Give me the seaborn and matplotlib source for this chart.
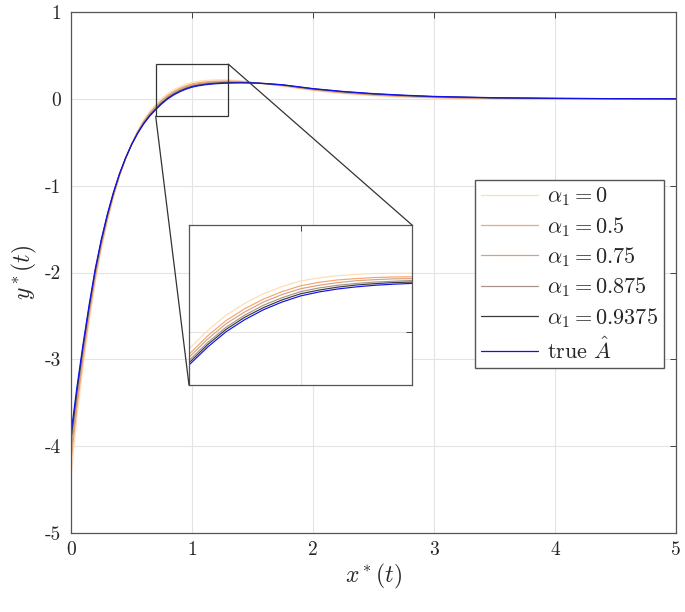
import seaborn as sns
import matplotlib.pyplot as plt
import numpy as np
import pandas as pd
from matplotlib.patches import Rectangle, ConnectionPatch

# values
t = [0, 0.05, 0.1, 0.15, 0.2, 0.25, 0.3, 0.35, 0.4, 0.45, 0.5, 0.55, 0.6, 0.65, 0.7, 0.75,
     0.8, 0.85, 0.9, 0.95, 1.0, 1.05, 1.1, 1.15, 1.2, 1.25, 1.3, 1.4, 1.5, 1.6, 1.75,
     2.0, 2.25, 2.5, 2.75, 3.0, 3.5, 4.0, 4.5, 5.0]

y_a0 = [-4.35, -3.66, -3.08, -2.57, -2.12, -1.74, -1.42, -1.14, -0.90, -0.695, -0.52, -0.37,
        -0.245, -0.145, -0.065, 0.004, 0.062, 0.106, 0.142, 0.169, 0.190, 0.202, 0.210, 0.215,
        0.218, 0.219, 0.219, 0.208, 0.190, 0.171, 0.145, 0.095, 0.060, 0.035, 0.019, 0.008,
        -0.002, -0.002, -0.001, 0.0]
y_a05 = [-4.185, -3.545, -2.994, -2.504, -2.067, -1.700, -1.390, -1.120, -0.888, -0.692, -0.523,
         -0.380, -0.260, -0.163, -0.085, -0.016, 0.042, 0.086, 0.122, 0.150, 0.172, 0.185, 0.194,
         0.199, 0.203, 0.205, 0.206, 0.200, 0.188, 0.173, 0.151, 0.103, 0.068, 0.043, 0.027,
         0.015, 0.003, 0.001, 0.0, 0.0]
y_a075 = [-4.09, -3.478, -2.945, -2.466, -2.037, -1.678, -1.373, -1.109, -0.882, -0.690, -0.525,
          -0.386, -0.268, -0.174, -0.096, -0.028, 0.030, 0.074, 0.111, 0.139, 0.161, 0.174, 0.184,
          0.191, 0.195, 0.198, 0.199, 0.196, 0.186, 0.174, 0.154, 0.107, 0.073, 0.048, 0.031,
          0.018, 0.006, 0.002, 0.001, 0.0]
y_a0875 = [-3.99, -3.408, -2.893, -2.426, -2.005, -1.654, -1.355, -1.097, -0.875, -0.688, -0.527,
           -0.392, -0.277, -0.185, -0.108, -0.041, 0.017, 0.062, 0.099, 0.127, 0.150, 0.164, 0.174,
           0.181, 0.186, 0.189, 0.192, 0.191, 0.185, 0.175, 0.157, 0.112, 0.078, 0.053, 0.036,
           0.022, 0.009, 0.004, 0.001, 0.0]
y_a09375 = [-3.92, -3.359, -2.856, -2.398, -1.982, -1.637, -1.343, -1.088, -0.870, -0.686, -0.529,
            -0.396, -0.284, -0.192, -0.117, -0.049, 0.009, 0.054, 0.090, 0.119, 0.142, 0.156, 0.167,
            0.175, 0.180, 0.184, 0.186, 0.187, 0.184, 0.176, 0.160, 0.115, 0.082, 0.057, 0.039,
            0.025, 0.011, 0.005, 0.002, 0.0]
y_true = [-3.85, -3.31, -2.82, -2.37, -1.96, -1.62, -1.33, -1.08, -0.865, -0.685, -0.53, -0.40,
          -0.29, -0.20, -0.125, -0.058, 0.0, 0.045, 0.082, 0.111, 0.134, 0.149, 0.160, 0.168,
          0.174, 0.178, 0.181, 0.184, 0.183, 0.177, 0.162, 0.118, 0.085, 0.06, 0.042, 0.028,
          0.013, 0.006, 0.002, 0.0]

labels = [r"$\alpha_1 = 0$", r"$\alpha_1 = 0.5$", r"$\alpha_1 = 0.75$",
          r"$\alpha_1 = 0.875$", r"$\alpha_1 = 0.9375$", r"true $\hat{A}$"]
colors = ["#FEDDB4", "#F5A570", "#D9A07F", "#A8948A", "#3A3A3A", "#1010F0"]
series = [y_a0, y_a05, y_a075, y_a0875, y_a09375, y_true]

xticks = [0, 1, 2, 3, 4, 5]
yticks = [-5, -4, -3, -2, -1, 0, 1]

df = pd.concat([pd.DataFrame({"t": t, "y": s, "curve": lab}) for s, lab in zip(series, labels)])

sns.set_theme(style="whitegrid")
plt.rcParams["font.family"] = "serif"
plt.rcParams["font.serif"] = ["cmr10", "DejaVu Serif"]
plt.rcParams["mathtext.fontset"] = "cm"
plt.rcParams["axes.unicode_minus"] = False
plt.rcParams["axes.formatter.use_mathtext"] = True

fig = plt.figure(figsize=(6.85, 6.12), dpi=100)
ax = fig.add_axes([71 / 685, 79 / 612, 605 / 685, 521 / 612])

sns.lineplot(data=df, x="t", y="y", hue="curve", hue_order=labels, palette=colors,
             estimator=None, sort=False, linewidth=0.85, ax=ax)

ax.set_xlim(0, 5)
ax.set_ylim(-5, 1)
ax.set_xticks(xticks, labels=[str(v) for v in xticks])
ax.set_yticks(yticks, labels=[str(v) for v in yticks])
ax.tick_params(direction="in", length=4, width=0.7, color="#404040", labelsize=14,
               top=True, right=True, colors="#262626")
ax.tick_params(axis="y", pad=7)
ax.tick_params(axis="x", pad=6)
ax.grid(True, color="#E3E3E3", linewidth=0.8)
for sp in ax.spines.values():
    sp.set_color("#555555")
    sp.set_linewidth(0.9)
ax.set_xlabel(r"$x^*(t)$", fontsize=17, labelpad=2)
ax.set_ylabel(r"$y^*(t)$", fontsize=17, labelpad=4)

leg = ax.get_legend()
handles = leg.legend_handles
ax.legend(handles, labels, loc="upper right", bbox_to_anchor=(0.980, 0.678),
          fontsize=16, frameon=True, fancybox=False, framealpha=1, edgecolor="#555555",
          handlelength=2.6, handletextpad=0.4, borderpad=0.25, labelspacing=0.3, borderaxespad=0)
for lh in ax.get_legend().legend_handles:
    lh.set_linewidth(0.9)

# zoom box on the main axes
ax.add_patch(Rectangle((0.7, -0.2), 0.6, 0.6, fill=False, edgecolor="#333333", linewidth=0.9, zorder=5))

axins = fig.add_axes([189 / 685, 227 / 612, 223 / 685, 160 / 612])
sns.lineplot(data=df, x="t", y="y", hue="curve", hue_order=labels, palette=colors,
             estimator=None, sort=False, linewidth=0.85, ax=axins, legend=False)
axins.set_xlim(0.7, 1.3)
axins.set_ylim(-0.2, 0.4)
axins.set_xticks([1], labels=[""])
axins.set_yticks([0], labels=[""])
axins.tick_params(direction="in", length=4, width=0.7, color="#404040", top=True, right=True)
axins.grid(True, color="#E3E3E3", linewidth=0.8)
axins.set_xlabel("")
axins.set_ylabel("")
axins.set_facecolor("white")
for sp in axins.spines.values():
    sp.set_color("#555555")
    sp.set_linewidth(0.9)

for (xa, ya), (xb, yb) in [((1.3, 0.4), (1, 1)), ((0.7, -0.2), (0, 0))]:
    con = ConnectionPatch(xyA=(xa, ya), coordsA=ax.transData, xyB=(xb, yb), coordsB=axins.transAxes,
                          color="#333333", linewidth=0.9)
    fig.add_artist(con)

fig.savefig("out.png", dpi=100)
